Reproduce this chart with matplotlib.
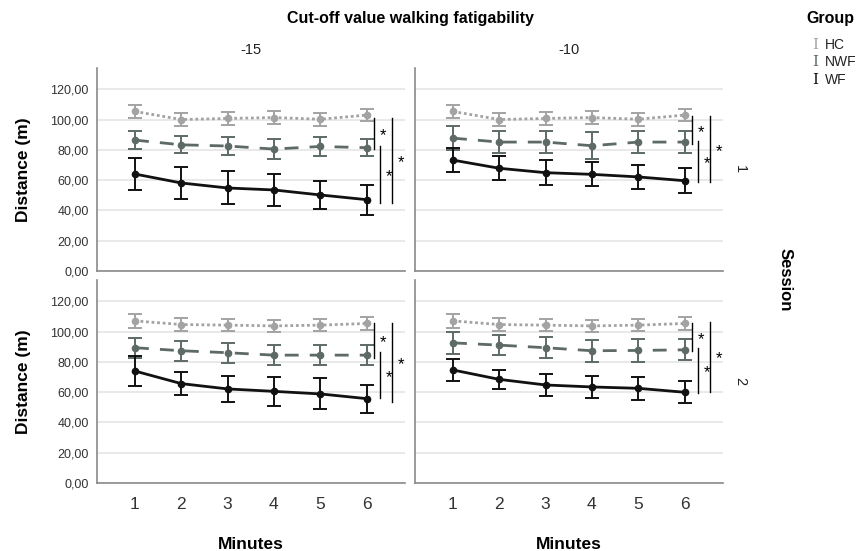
import numpy as np
import matplotlib
matplotlib.use("Agg")
import matplotlib.pyplot as plt

plt.rcParams['font.family'] = ['Liberation Sans', 'DejaVu Sans']

# data: mean distance (m) per minute, with error bars
minutes = [1, 2, 3, 4, 5, 6]
cutoffs = ["-15", "-10"]
sessions = ["1", "2"]
groups = ["HC", "NWF", "WF"]

# session 1, cut-off -15
hc_s1_15 = [105.3, 100.0, 100.7, 101.3, 100.2, 102.9]
hc_s1_15_err = [4.4, 4.2, 4.0, 4.0, 4.2, 4.0]
nwf_s1_15 = [86.4, 83.3, 82.5, 80.5, 82.2, 81.4]
nwf_s1_15_err = [5.8, 5.7, 5.9, 6.8, 6.2, 5.8]
wf_s1_15 = [64.0, 58.1, 54.8, 53.5, 50.2, 47.1]
wf_s1_15_err = [10.7, 10.7, 10.9, 10.4, 9.5, 9.9]

# session 1, cut-off -10
hc_s1_10 = [105.3, 100.0, 100.7, 101.3, 100.2, 102.9]
hc_s1_10_err = [4.4, 4.2, 4.0, 4.0, 4.2, 4.0]
nwf_s1_10 = [87.7, 85.1, 85.1, 82.7, 85.1, 85.1]
nwf_s1_10_err = [7.9, 7.0, 7.0, 8.8, 7.5, 7.0]
wf_s1_10 = [73.2, 67.8, 64.9, 63.8, 62.1, 59.6]
wf_s1_10_err = [7.9, 8.0, 8.4, 7.9, 8.1, 8.3]

# session 2, cut-off -15
hc_s2_15 = [107.0, 104.6, 104.2, 103.7, 104.2, 105.3]
hc_s2_15_err = [4.5, 4.0, 4.0, 4.0, 4.0, 4.0]
nwf_s2_15 = [89.3, 87.3, 86.0, 84.4, 84.4, 84.4]
nwf_s2_15_err = [6.6, 6.6, 6.6, 6.6, 6.6, 6.7]
wf_s2_15 = [73.9, 65.6, 62.1, 60.5, 58.8, 55.7]
wf_s2_15_err = [9.9, 7.7, 8.8, 9.8, 10.2, 9.2]

# session 2, cut-off -10
hc_s2_10 = [107.0, 104.6, 104.2, 103.7, 104.2, 105.3]
hc_s2_10_err = [4.5, 4.0, 4.0, 4.0, 4.0, 4.0]
nwf_s2_10 = [92.5, 91.0, 89.3, 87.3, 87.5, 87.9]
nwf_s2_10_err = [7.3, 6.8, 6.9, 7.3, 7.3, 7.0]
wf_s2_10 = [74.6, 68.4, 64.7, 63.4, 62.5, 59.9]
wf_s2_10_err = [7.2, 6.4, 7.0, 7.1, 7.5, 7.2]

# significance brackets (y from, y to) for HC-NWF, NWF-WF, HC-WF
sig_s1_15 = [(100.9, 80.5), (82.7, 45.2), (101.3, 45.2)]
sig_s1_10 = [(102.4, 83.8), (85.5, 58.6), (102.4, 58.6)]
sig_s2_15 = [(105.3, 82.7), (86.6, 55.9), (105.9, 53.7)]
sig_s2_10 = [(105.7, 87.1), (89.3, 59.6), (106.4, 60.3)]

yticks = [0, 20, 40, 60, 80, 100, 120]
ytick_labels = ["0,00", "20,00", "40,00", "60,00", "80,00", "100,00", "120,00"]

# styles
col_hc = "#a3a3a3"
col_nwf = "#5d6a66"
col_wf = "#111111"


def panel(ax, hc, hc_e, nwf, nwf_e, wf, wf_e, sig):
    for y in yticks:
        ax.axhline(y, color="#e5e5e5", lw=1.2, zorder=0)
    ax.errorbar(minutes, hc, yerr=hc_e, color=col_hc, ls=(0, (1, 1)), lw=2,
                marker="o", ms=4.5, capsize=5, elinewidth=1.4, capthick=1.4)
    ax.errorbar(minutes, nwf, yerr=nwf_e, color=col_nwf, ls=(0, (5, 4)), lw=2,
                marker="o", ms=4.5, capsize=5, elinewidth=1.4, capthick=1.4)
    ax.errorbar(minutes, wf, yerr=wf_e, color=col_wf, ls="-", lw=2,
                marker="o", ms=4.5, capsize=5, elinewidth=1.4, capthick=1.4)
    # brackets
    xl = [6.16, 6.29, 6.56]
    xs = [6.35, 6.48, 6.74]
    for (y0, y1), x, xst in zip(sig, xl, xs):
        ax.plot([x, x], [y0, y1], color="black", lw=1, clip_on=False)
        ax.text(xst, (y0 + y1) / 2 - 1.5, "*", fontsize=12, ha="center",
                va="center", clip_on=False)
    ax.set_xlim(0.18, 6.83)
    ax.set_ylim(0, 134)
    ax.set_xticks(minutes)
    ax.set_yticks(yticks)
    ax.set_yticklabels(ytick_labels)
    ax.tick_params(length=0, labelcolor="#333333")
    ax.tick_params(axis="y", labelsize=9, pad=6)
    ax.tick_params(axis="x", labelsize=12.5, pad=10)
    for s in ["top", "right"]:
        ax.spines[s].set_visible(False)
    for s in ["left", "bottom"]:
        ax.spines[s].set_color("#8a8a8a")
        ax.spines[s].set_linewidth(1.2)


fig = plt.figure(figsize=(8.67, 5.51), dpi=100)
W, H = 867, 551
lefts = [97, 415]
tops = [68, 280]
pw, ph = 308, 203
axes = {}
for r in range(2):
    for c in range(2):
        ax = fig.add_axes([lefts[c] / W, 1 - (tops[r] + ph) / H, pw / W, ph / H])
        axes[(r, c)] = ax

panel(axes[(0, 0)], hc_s1_15, hc_s1_15_err, nwf_s1_15, nwf_s1_15_err, wf_s1_15, wf_s1_15_err, sig_s1_15)
panel(axes[(0, 1)], hc_s1_10, hc_s1_10_err, nwf_s1_10, nwf_s1_10_err, wf_s1_10, wf_s1_10_err, sig_s1_10)
panel(axes[(1, 0)], hc_s2_15, hc_s2_15_err, nwf_s2_15, nwf_s2_15_err, wf_s2_15, wf_s2_15_err, sig_s2_15)
panel(axes[(1, 1)], hc_s2_10, hc_s2_10_err, nwf_s2_10, nwf_s2_10_err, wf_s2_10, wf_s2_10_err, sig_s2_10)

for r in range(2):
    axes[(r, 1)].set_yticklabels([])
    axes[(r, 0)].set_ylabel("Distance (m)", fontsize=12.5, fontweight="bold", labelpad=14)
axes[(0, 0)].set_xticklabels([])
axes[(0, 1)].set_xticklabels([])
for c in range(2):
    axes[(1, c)].set_xlabel("Minutes", fontsize=12.5, fontweight="bold", labelpad=18)
    axes[(0, c)].set_title(cutoffs[c], fontsize=10.5, pad=10, color="#222222")

fig.text(410 / W, 1 - 18 / H, "Cut-off value walking fatigability", fontsize=11.5,
         fontweight="bold", ha="center", va="center")
for r in range(2):
    fig.text(740 / W, 1 - (tops[r] + ph / 2) / H, sessions[r], rotation=-90,
             fontsize=10.5, ha="center", va="center", color="#222222")
fig.text(785 / W, 1 - 280 / H, "Session", rotation=-90, fontsize=12,
         fontweight="bold", ha="center", va="center")

# legend
fig.text(806 / W, 1 - 18 / H, "Group", fontsize=11.5, fontweight="bold",
         ha="left", va="center")
for i, (g, col) in enumerate(zip(groups, [col_hc, col_nwf, col_wf])):
    y = 1 - (45 + 17.5 * i) / H
    fig.text(812 / W, y, "I", fontsize=11, family="DejaVu Serif", color=col,
             ha="left", va="center")
    fig.text(825 / W, y, g, fontsize=10, color="#222222", ha="left", va="center")

fig.savefig("out.png", dpi=100)
